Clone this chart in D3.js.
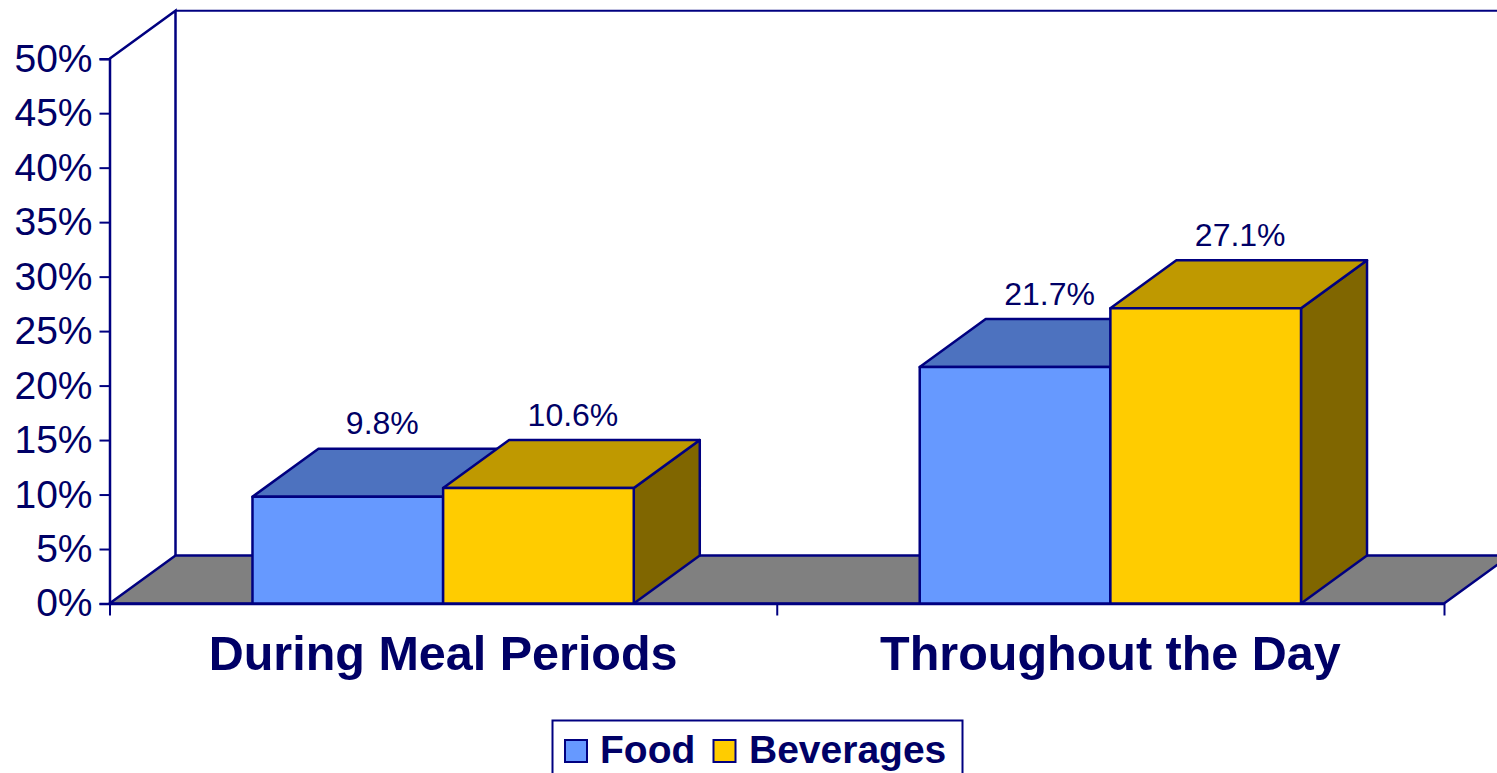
<!DOCTYPE html>
<html>
<head>
<meta charset="utf-8">
<script src="https://cdn.jsdelivr.net/npm/d3@7"></script>
<style>
html, body { margin: 0; padding: 0; background: #fff; overflow: hidden; }
svg { display: block; font-family: "Liberation Sans", Arial, sans-serif; }
</style>
</head>
<body>
<div id="chart"></div>
<script>
var categories = ["During Meal Periods", "Throughout the Day"];
var seriesNames = ["Food", "Beverages"];
var foodValues = [9.8, 21.7];
var beverageValues = [10.6, 27.1];
var yTicks = [0, 5, 10, 15, 20, 25, 30, 35, 40, 45, 50];

var navy = "#000080", textNavy = "#000066";
var fronts = ["#6699ff", "#ffcc00"];
var tops = ["#4d72bf", "#bf9900"];
var sides = ["#3a5680", "#806600"];

var width = 1497, height = 773;
var left = 109.5, right = 1444, bottom = 603.5, top50 = 58.7;
// depth of the 3d box
var dx = 66, dy = -48;

var svg = d3.select("#chart").append("svg")
  .attr("width", width)
  .attr("height", height);

var y = d3.scaleLinear().domain([0, 50]).range([bottom, top50]);
var x0 = d3.scaleBand().domain(categories).range([left, right]);
var x1 = d3.scaleBand().domain(seriesNames)
  .range([0, x0.bandwidth()])
  .paddingOuter(0.75).paddingInner(0);
var xEdges = d3.scaleLinear().domain([0, 2]).range([left, right]);

function poly(points) {
  return points.map(function(p) { return p.join(","); }).join(" ");
}

// back wall
svg.append("path")
  .attr("fill", "none").attr("stroke", navy).attr("stroke-width", 2.5)
  .attr("d", d3.line()([
    [left, y(50)], [left + dx, y(50) + dy], [left + dx, y(0) + dy]
  ]));
svg.append("line")
  .attr("x1", left + dx).attr("x2", right + dx)
  .attr("y1", y(50) + dy).attr("y2", y(50) + dy)
  .attr("stroke", navy).attr("stroke-width", 2);

// floor
svg.append("polygon")
  .attr("points", poly([
    [left, y(0)], [left + dx, y(0) + dy], [right + dx, y(0) + dy], [right, y(0)]
  ]))
  .attr("fill", "#808080").attr("stroke", navy).attr("stroke-width", 2.5)
  .attr("stroke-linejoin", "round");

// axes
var yAxis = d3.axisLeft(y).tickValues(yTicks)
  .tickFormat(function(d) { return d + "%"; })
  .tickSize(10).tickPadding(7);
var gy = svg.append("g").attr("transform", "translate(" + left + ",0)").call(yAxis);
gy.selectAll("line").attr("stroke", navy).attr("stroke-width", 2);
gy.select(".domain").attr("stroke", navy).attr("stroke-width", 2.5);
gy.selectAll("text").attr("fill", textNavy)
  .style("font-size", "39px").style("font-family", "Liberation Sans");

var xAxis = d3.axisBottom(xEdges).tickValues([0, 1, 2])
  .tickFormat("").tickSize(12).tickSizeOuter(0);
var gx = svg.append("g").attr("transform", "translate(0," + bottom + ")").call(xAxis);
gx.selectAll("line").attr("stroke", navy).attr("stroke-width", 2);
gx.select(".domain").attr("stroke", navy).attr("stroke-width", 2.5);

var catAxis = d3.axisBottom(x0).tickSize(0).tickPadding(32);
var gc = svg.append("g").attr("transform", "translate(0," + bottom + ")").call(catAxis);
gc.select(".domain").remove();
gc.selectAll("text").attr("fill", textNavy)
  .attr("font-weight", "bold")
  .style("font-size", "48.5px").style("font-family", "Liberation Sans");

// bars
var seriesValues = [foodValues, beverageValues];
categories.forEach(function(cat, c) {
  seriesNames.forEach(function(name, s) {
    var v = seriesValues[s][c];
    var xa = x0(cat) + x1(name), xb = xa + x1.bandwidth();
    var g = svg.append("g")
      .attr("stroke", navy).attr("stroke-width", 2.5).attr("stroke-linejoin", "round");
    g.append("polygon").attr("fill", sides[s]).attr("points", poly([
      [xb, y(v)], [xb + dx, y(v) + dy], [xb + dx, y(0) + dy], [xb, y(0)]
    ]));
    g.append("polygon").attr("fill", tops[s]).attr("points", poly([
      [xa, y(v)], [xa + dx, y(v) + dy], [xb + dx, y(v) + dy], [xb, y(v)]
    ]));
    g.append("rect").attr("fill", fronts[s])
      .attr("x", xa).attr("y", y(v))
      .attr("width", xb - xa).attr("height", y(0) - y(v));
  });
});

// data labels, drawn last so the bars never cover them
categories.forEach(function(cat, c) {
  seriesNames.forEach(function(name, s) {
    var v = seriesValues[s][c];
    svg.append("text")
      .attr("x", x0(cat) + x1(name) + x1.bandwidth() / 2 + dx / 2 + 1.5)
      .attr("y", y(v) + dy - 14.5)
      .attr("text-anchor", "middle")
      .attr("fill", textNavy)
      .style("font-size", "32px")
      .text(d3.format(".1f")(v) + "%");
  });
});

// legend
var legend = svg.append("g");
legend.append("rect")
  .attr("x", 552.5).attr("y", 720.5).attr("width", 410).attr("height", 70)
  .attr("fill", "#fff").attr("stroke", navy).attr("stroke-width", 2);
var legendSwatchX = [565, 713.5];
var legendTextX = [600, 749];
seriesNames.forEach(function(name, s) {
  legend.append("rect")
    .attr("x", legendSwatchX[s]).attr("y", 740)
    .attr("width", 22).attr("height", 22)
    .attr("fill", fronts[s]).attr("stroke", navy).attr("stroke-width", 2);
  legend.append("text")
    .attr("x", legendTextX[s]).attr("y", 763)
    .attr("fill", textNavy).attr("font-weight", "bold")
    .style("font-size", "39px")
    .text(name);
});
</script>
</body>
</html>
